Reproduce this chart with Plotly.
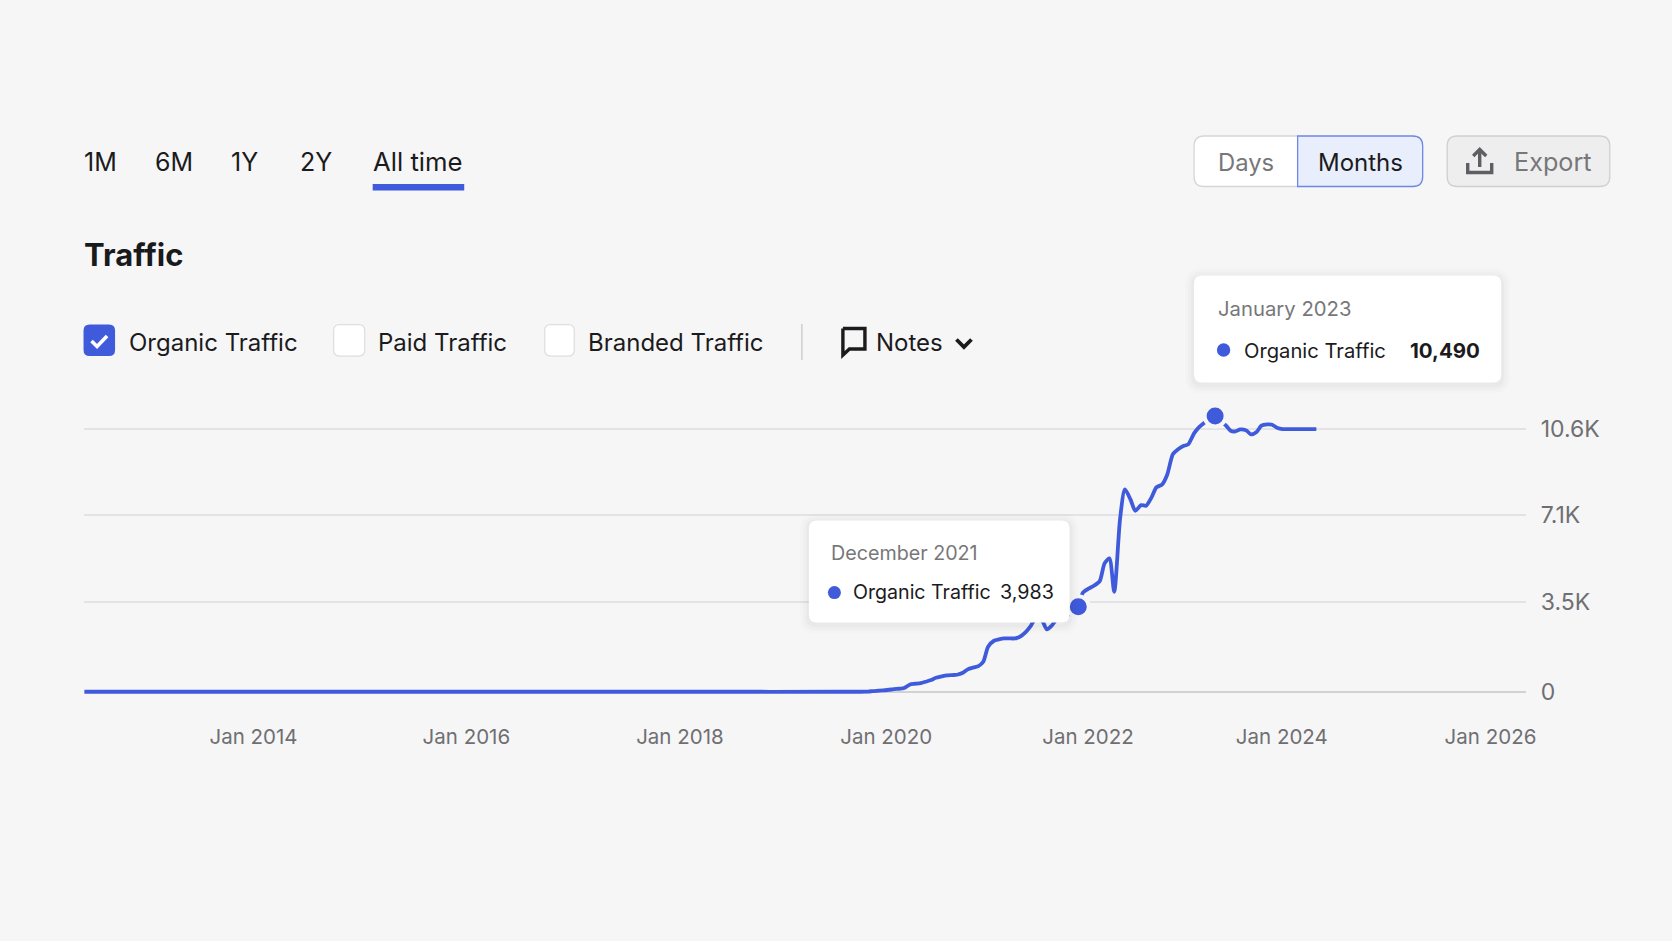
import plotly.graph_objects as go

W, H = 1672, 941
LAYOUT_SCALE = 1.0065
BLUE = "#3f5bdc"
BG = "#f6f6f7"
INK = "#1b1b1d"
MUTED = "#77777a"
FONT = "Inter"

# Organic traffic up to the December 2021 reading (lower axis)
early_dates = [
    "2014-01-15", "2015-01-01", "2016-01-01", "2017-01-01", "2018-01-01", "2019-01-01", "2020-01-01",
    "2020-04-01", "2020-04-15", "2020-05-01", "2020-05-15", "2020-06-01", "2020-06-15", "2020-07-01",
    "2020-07-15", "2020-08-01", "2020-08-15", "2020-09-01", "2020-09-15", "2020-10-01", "2020-10-15",
    "2020-11-01", "2020-11-15", "2020-12-01", "2020-12-15", "2021-01-01", "2021-01-15", "2021-02-01",
    "2021-02-15", "2021-03-01", "2021-03-15", "2021-04-01", "2021-04-15", "2021-05-01", "2021-05-15",
    "2021-06-01", "2021-06-15", "2021-07-01", "2021-07-15", "2021-08-01", "2021-08-15", "2021-09-01",
    "2021-09-15", "2021-10-01", "2021-10-15", "2021-11-01", "2021-11-15", "2021-12-01",
]
early_values = [
    0, 0, 0, 0, 0, 0, 0,
    10, 31, 47, 62, 94, 125, 141,
    172, 344, 375, 406, 469, 547, 656,
    719, 765, 781, 797, 890, 1047, 1140,
    1203, 1406, 2109, 2390, 2452, 2499, 2499,
    2499, 2577, 2780, 3046, 3483, 3436, 2921,
    3093, 3436, 3577, 3624, 3671, 3983,
]

# Organic traffic from December 2021 onward (upper axis)
late_dates = [
    "2021-12-01", "2021-12-15", "2022-01-01", "2022-01-15", "2022-02-01", "2022-02-15", "2022-03-01",
    "2022-03-15", "2022-04-01", "2022-04-15", "2022-05-01", "2022-05-15", "2022-06-01", "2022-06-15",
    "2022-07-01", "2022-07-15", "2022-08-01", "2022-08-15", "2022-09-01", "2022-09-15", "2022-10-01",
    "2022-10-15", "2022-11-01", "2022-11-15", "2022-12-01", "2022-12-15", "2023-01-01", "2023-01-15",
    "2023-02-01", "2023-02-15", "2023-03-01", "2023-03-15", "2023-04-01", "2023-04-15", "2023-05-01",
    "2023-05-15", "2023-06-01", "2023-06-15", "2023-07-01", "2023-07-15", "2023-08-01", "2023-10-21",
]
late_values = [
    3983, 4472, 4609, 4700, 4859, 5462, 5632,
    4495, 6997, 7987, 7646, 7259, 7452, 7430,
    7714, 8055, 8158, 8476, 9193, 9352, 9466,
    9523, 9898, 10103, 10262, 10376, 10490, 10330,
    10171, 9989, 9966, 10035, 10000, 9864, 9944,
    10160, 10205, 10194, 10080, 10046, 10046, 10046,
]

# Highlighted readings
highlight_dates = ["2021-12-01", "2023-01-01"]
highlight_values = [3983, 10490]
highlight_titles = ["December 2021", "January 2023"]

x_tick_positions = ["2015-05-20", "2017-01-25", "2018-10-05", "2020-05-24", "2021-12-29", "2023-07-13", "2025-03-08"]
x_tick_labels = ["Jan 2014", "Jan 2016", "Jan 2018", "Jan 2020", "Jan 2022", "Jan 2024", "Jan 2026"]
y_tick_positions = [0, 4217, 8266, 12310]
y_tick_labels = ["0", "3.5K", "7.1K", "10.6K"]

range_tabs = ["1M", "6M", "1Y", "2Y", "All time"]
series_names = ["Organic Traffic", "Paid Traffic", "Branded Traffic"]

x_nudge = -1.0


def fx(px):
    return (px + x_nudge) * LAYOUT_SCALE / W


def fy(py):
    return 1 - py * LAYOUT_SCALE / H


def poly(points, close=False):
    d = "M" + " L".join(f"{fx(x):.5f},{fy(y):.5f}" for x, y in points)
    return d + (" Z" if close else "")


def round_rect(x0, y0, x1, y1, r, corners=(1, 1, 1, 1)):
    tl, tr, br, bl = [r * c for c in corners]
    p = lambda x, y: f"{fx(x):.5f},{fy(y):.5f}"
    return (
        f"M{p(x0 + tl, y0)} L{p(x1 - tr, y0)} Q{p(x1, y0)} {p(x1, y0 + tr)} "
        f"L{p(x1, y1 - br)} Q{p(x1, y1)} {p(x1 - br, y1)} L{p(x0 + bl, y1)} "
        f"Q{p(x0, y1)} {p(x0, y1 - bl)} L{p(x0, y0 + tl)} Q{p(x0, y0)} {p(x0 + tl, y0)} Z"
    )


shapes, notes = [], []


def path(d, fill=None, stroke=None, width=0, opacity=1):
    shapes.append(dict(
        type="path", xref="paper", yref="paper", path=d, layer="above", opacity=opacity,
        fillcolor=fill or "rgba(0,0,0,0)",
        line=dict(color=stroke or "rgba(0,0,0,0)", width=width),
    ))


def label(text, x, y, size, color=INK, anchor="left", bold=False):
    notes.append(dict(
        text=f"<b>{text}</b>" if bold else text, x=fx(x), y=fy(y), xref="paper", yref="paper",
        xanchor=anchor, yanchor="middle", showarrow=False, borderpad=0, borderwidth=0,
        font=dict(family=FONT, size=size, color=color),
    ))


def dot(cx, cy, r):
    shapes.append(dict(
        type="circle", xref="paper", yref="paper", layer="above", fillcolor=BLUE, line=dict(width=0),
        x0=fx(cx - r), x1=fx(cx + r), y0=fy(cy + r), y1=fy(cy - r),
    ))


def card(x0, y0, x1, y1):
    for grow, alpha in ((9, 0.012), (6, 0.016), (3, 0.022)):
        path(round_rect(x0 - grow, y0 - grow + 2, x1 + grow, y1 + grow + 2, 8 + grow), fill="#000000", opacity=alpha)
    path(round_rect(x0, y0, x1, y1, 8), fill="#ffffff")


# Range tabs
for name, left, size in zip(range_tabs, (84.5, 155.5, 231.5, 300.5, 374), (25, 25, 25, 25, 25.7)):
    label(name, left, 161.5, size)
path(poly([(373.5, 184), (465, 184), (465, 190.5), (373.5, 190.5)], True), fill=BLUE)

# Heading
label("Traffic", 84.5, 254.5, 31, "#1a1a1c", bold=True)

# Series checkboxes
path(round_rect(84.5, 324.5, 116, 356, 6), fill=BLUE)
path(poly([(92.5, 341), (98, 346.5), (108, 336)]), stroke="#ffffff", width=3.6)
path(round_rect(334.5, 324.5, 365.5, 356, 6), fill="#ffffff", stroke="#dedee0", width=1.2)
path(round_rect(545.5, 324.5, 575, 356, 6), fill="#ffffff", stroke="#dedee0", width=1.2)
for name, left in zip(series_names, (129.5, 379, 588.5)):
    label(name, left, 342, 24)

# Divider and notes control
path(poly([(802.5, 324), (802.5, 360)]), stroke="#c9c9cc", width=1.3)
path(poly([(843.5, 328.5), (865.5, 328.5), (865.5, 349), (850, 349), (843.5, 355), (843.5, 328.5)]), stroke=INK, width=3.4)
label("Notes", 877, 342, 24)
path(poly([(957, 339.5), (964.5, 347), (972, 339.5)]), stroke=INK, width=3.8)

# Days / Months toggle
path(round_rect(1194.5, 136, 1298, 186.5, 10, (1, 0, 0, 1)), fill="#ffffff", stroke="#d6d6d9", width=1.3)
path(round_rect(1298, 136, 1423, 186.5, 10, (0, 1, 1, 0)), fill="#e9eefc", stroke="#6f86e2", width=1.3)
label("Days", 1246.5, 162, 23.8, MUTED, "center")
label("Months", 1360.5, 162, 24, INK, "center")

# Export button
path(round_rect(1447.5, 136, 1610, 186.5, 10), fill="#eeeeef", stroke="#d0d0d3", width=1.3)
path(poly([(1468, 163), (1468, 172.5), (1492, 172.5), (1492, 163)]), stroke="#5f5f63", width=3.4)
path(poly([(1480, 167), (1480, 150)]), stroke="#5f5f63", width=3.4)
path(poly([(1473.5, 156), (1480, 149.5), (1486.5, 156)]), stroke="#5f5f63", width=3.4)
label("Export", 1514.5, 162, 25.2, MUTED)

# Tooltips for the highlighted readings
card(1194.5, 275.5, 1501.5, 382.5)
label(highlight_titles[1], 1218, 308.5, 20.3, MUTED)
dot(1224, 350, 6.7)
label(series_names[0], 1244, 350, 20.2)
label(f"{highlight_values[1]:,}", 1480, 350, 20.5, INK, "right", bold=True)

x_nudge = 0.0
card(808.5, 520.5, 1069, 622.5)
label(highlight_titles[0], 831, 552.5, 19.7, MUTED)
dot(834, 592.5, 6.5)
label(series_names[0], 853, 592, 19.6)
label(f"{highlight_values[0]:,}", 1053, 592, 19.7, INK, "right")

fig = go.Figure()
line_style = dict(color=BLUE, width=3.8, shape="spline", smoothing=0.7)
fig.add_trace(go.Scatter(x=early_dates, y=early_values, mode="lines", line=line_style, yaxis="y", showlegend=False))
fig.add_trace(go.Scatter(x=late_dates, y=late_values, mode="lines", line=line_style, yaxis="y2", showlegend=False))
fig.add_trace(go.Scatter(
    x=highlight_dates, y=highlight_values, mode="markers", yaxis="y2", showlegend=False,
    marker=dict(size=21, color=BLUE, line=dict(color=BG, width=4)),
))

fig.update_layout(
    autosize=True, margin=dict(l=0, r=0, t=0, b=0),
    paper_bgcolor=BG, plot_bgcolor=BG, showlegend=False,
    font=dict(family=FONT), shapes=shapes, annotations=notes,
    xaxis=dict(
        type="date", domain=[fx(84.2), fx(1525)], range=["2014-01-15", "2025-06-18"],
        tickmode="array", tickvals=x_tick_positions, ticktext=x_tick_labels,
        showgrid=False, zeroline=False, showline=False, ticks="", ticklabelstandoff=22,
        tickfont=dict(family=FONT, size=20.5, color="#6f6f72"),
    ),
    yaxis=dict(
        domain=[fy(700), fy(395)], range=[-389, 13903], side="right",
        tickmode="array", tickvals=y_tick_positions, ticktext=y_tick_labels,
        showgrid=True, gridcolor="#e3e3e6", gridwidth=1.5,
        zeroline=True, zerolinecolor="#d2d2d5", zerolinewidth=1.5,
        showline=False, ticks="", ticklabelstandoff=14,
        tickfont=dict(family=FONT, size=23, color="#6f6f72"),
    ),
    yaxis2=dict(overlaying="y", range=[800, 11206], visible=False),
)

fig.write_html("out.html", config=dict(displayModeBar=False), default_width=f"{W}px", default_height=f"{H}px")
